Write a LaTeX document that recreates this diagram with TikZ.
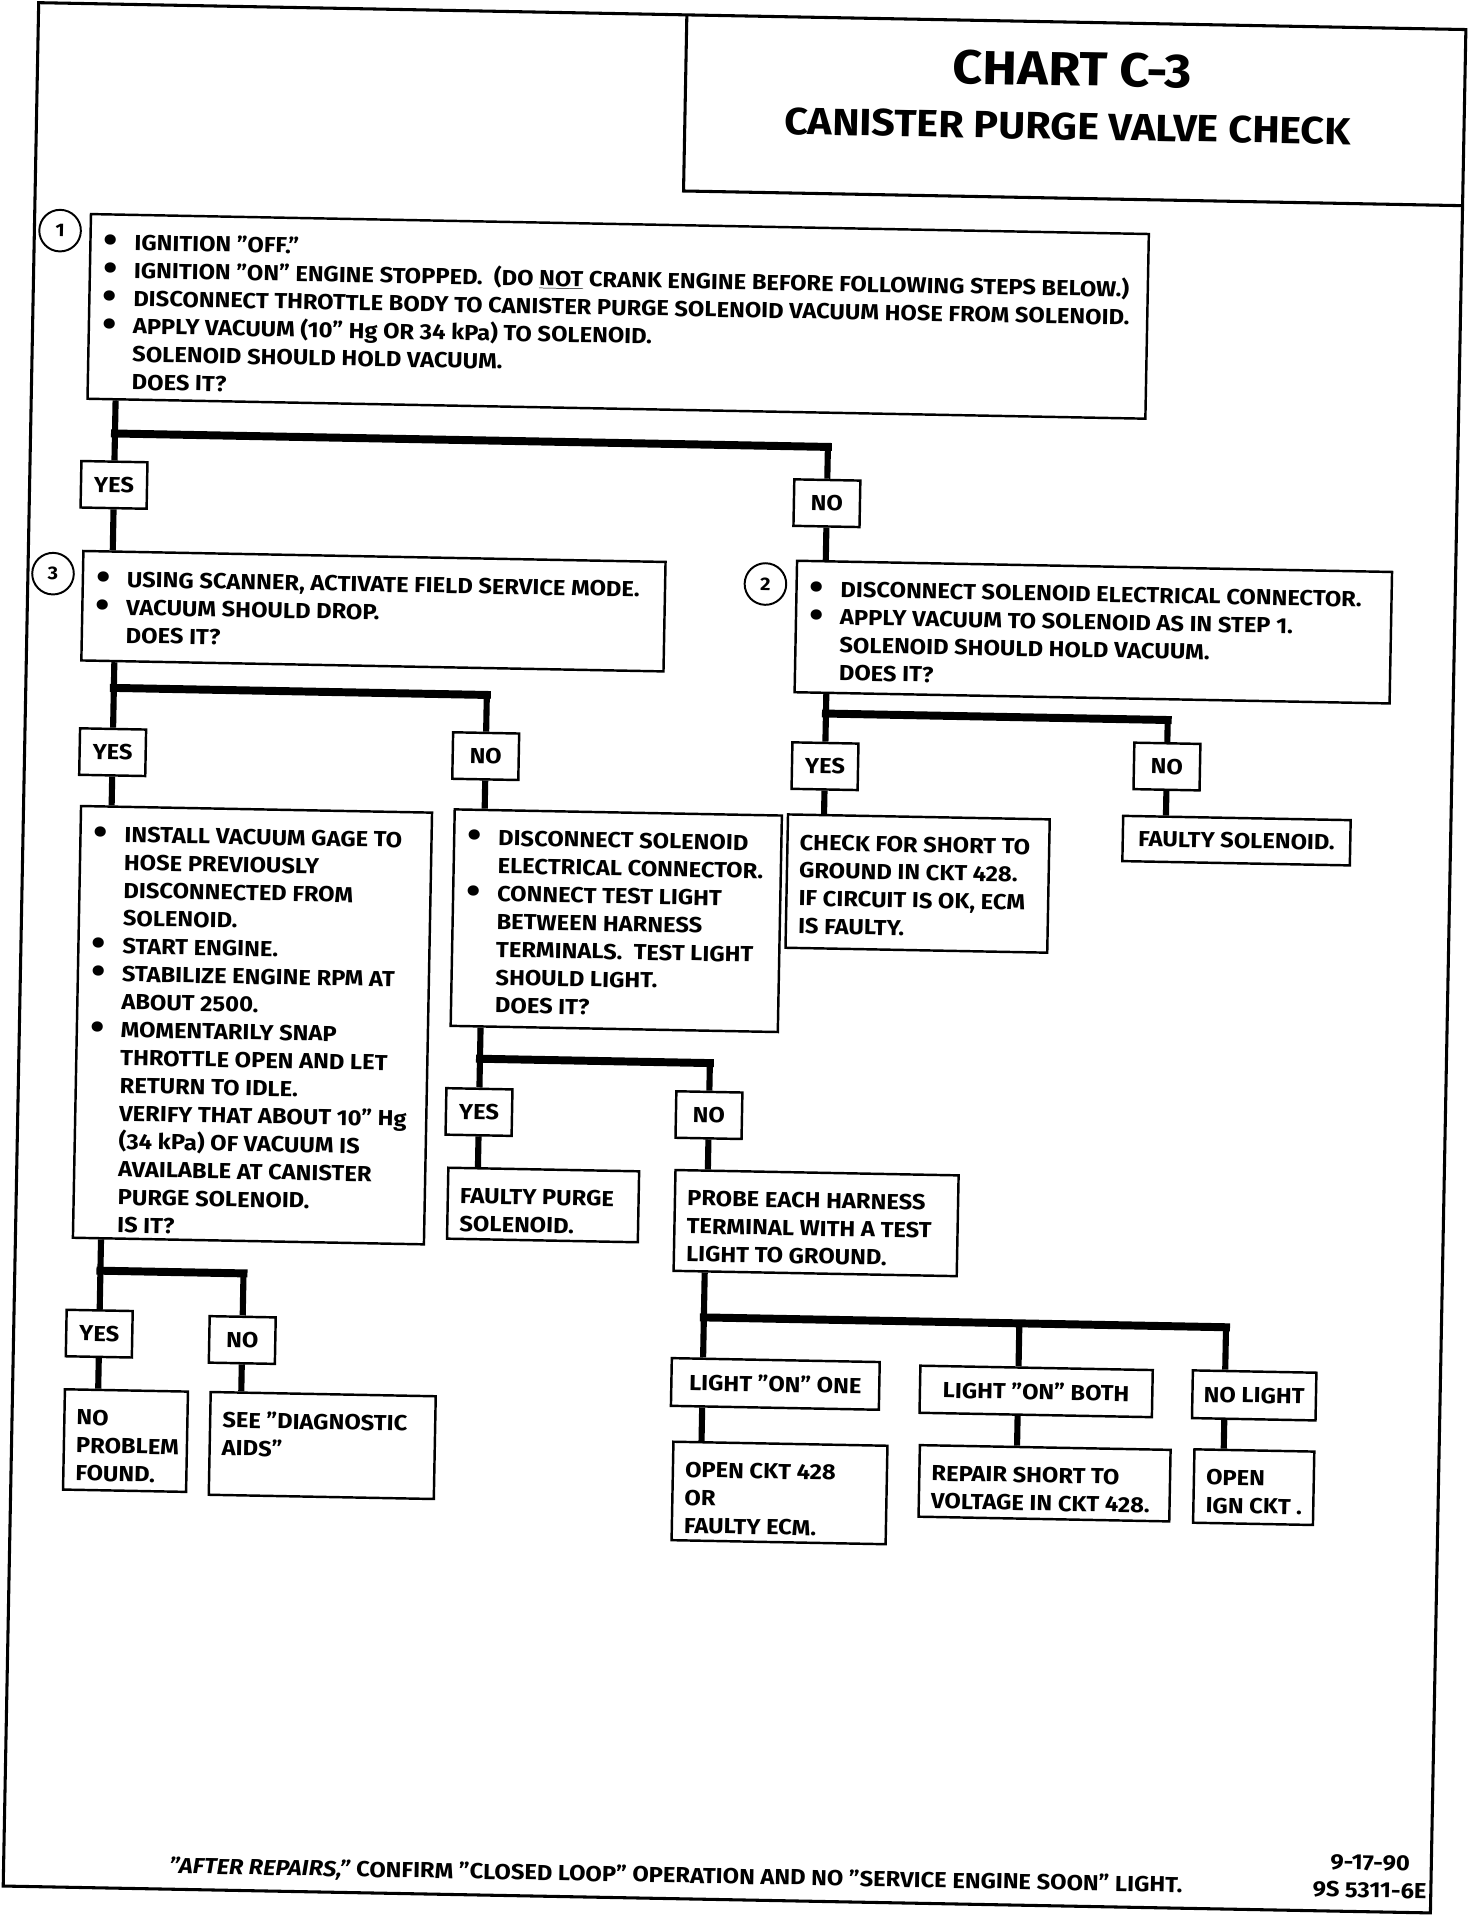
\documentclass[tikz,border=0pt]{standalone}
\usepackage{fontspec}
\setmainfont{Fira Sans}[FakeStretch=1.09]
\usetikzlibrary{calc}

\newcommand{\bodyfont}{\fontsize{17.8pt}{22.8pt}\selectfont\bfseries}
\newcommand{\bul}{\makebox[26pt][l]{\hspace{1pt}\raisebox{-2.2pt}{\scalebox{1.7}{\textbullet}}}}
\newcommand{\ind}{\hspace*{26pt}}
\newcommand{\boxtext}[3]{\parbox[t][#2][t]{#1}{\begin{tabular}[t]{@{}l@{}}#3\end{tabular}}}

\begin{document}
\begin{tikzpicture}[x=1pt, y=-1pt,
  stepbox/.style={draw, line width=2pt, anchor=north west, inner xsep=10pt, inner ysep=13pt, font=\bodyfont},
  ansbox/.style={draw, line width=2pt, minimum width=54pt, minimum height=38pt, inner sep=0pt, font=\bodyfont},
  stepnum/.style={draw, circle, line width=1.6pt, minimum size=34pt, inner sep=0pt, font=\fontsize{15pt}{17pt}\selectfont\bfseries},
  link/.style={line width=5pt},
  bar/.style={line width=6.5pt, line cap=rect},
  frame/.style={line width=2.5pt}]
  \useasboundingbox (0,0) rectangle (1203,1568);

  \begin{scope}[rotate around={-1.08:(600,783)}, transform shape]
  % Frame and title block
  \draw[frame] (17,13) rectangle (1184,1553);
  \draw[frame] (547,13) -- (547,157) -- (1184,157);
  \node[anchor=base, font=\fontsize{39pt}{44pt}\selectfont\bfseries] (chart) at (863,65) {CHART C-3};
  \node[anchor=base, font=\fontsize{31pt}{36pt}\selectfont\bfseries] (subtitle) at (860,109) {CANISTER PURGE VALVE CHECK};

  % Step 1
  \node[stepnum] (num1) at (38,199) {1};
  \node[stepbox] (b1) at (62,184) {\boxtext{845pt}{125pt}{
    \bul IGNITION ”OFF.” \\
    \bul IGNITION ”ON” ENGINE STOPPED.\ \ (DO \underline{NOT} CRANK ENGINE BEFORE FOLLOWING STEPS BELOW.) \\
    \bul DISCONNECT THROTTLE BODY TO CANISTER PURGE SOLENOID VACUUM HOSE FROM SOLENOID. \\
    \bul APPLY VACUUM (10” Hg OR 34 kPa) TO SOLENOID. \\
    \ind SOLENOID SHOULD HOLD VACUUM. \\
    \ind DOES IT?}};
  \node[ansbox] (yes1) at (86,406) {YES};
  \node[ansbox] (no1) at (669,410) {NO};
  \coordinate (j1) at (86,364);
  \coordinate (k1) at (669,364);

  % Step 3
  \node[stepnum] (num3) at (37.5,479.5) {3};
  \node[stepbox] (b3) at (61,459.5) {\boxtext{456pt}{63.5pt}{
    \bul USING SCANNER, ACTIVATE FIELD SERVICE MODE. \\
    \bul VACUUM SHOULD DROP. \\
    \ind DOES IT?}};
  \node[ansbox] (yes3) at (89,624.5) {YES};
  \node[ansbox] (no3) at (394,622) {NO};
  \coordinate (j3) at (89,572);
  \coordinate (k3) at (394,572);

  % Step 2
  \node[stepnum] (num2) at (620,477) {2};
  \node[stepbox] (b2) at (644.5,456.5) {\boxtext{466.5pt}{81.5pt}{
    \bul DISCONNECT SOLENOID ELECTRICAL CONNECTOR. \\
    \bul APPLY VACUUM TO SOLENOID AS IN STEP 1. \\
    \ind SOLENOID SHOULD HOLD VACUUM. \\
    \ind DOES IT?}};
  \node[ansbox] (yes2) at (671.5,625) {YES};
  \node[ansbox] (no2) at (951,620) {NO};
  \coordinate (j2) at (671.5,582);
  \coordinate (k2) at (951,582);
  \node[stepbox] (short) at (641,664) {\boxtext{194pt}{83pt}{
    CHECK FOR SHORT TO \\
    GROUND IN CKT 428. \\
    IF CIRCUIT IS OK, ECM \\
    IS FAULTY.}};
  \node[ansbox, minimum width=186pt, minimum height=37pt] (faulty) at (1009,679.5) {FAULTY SOLENOID.};

  % Vacuum gage check
  \node[stepbox] (gage) at (63,668) {\boxtext{267pt}{327pt}{
    \bul INSTALL VACUUM GAGE TO \\
    \ind HOSE PREVIOUSLY \\
    \ind DISCONNECTED FROM \\
    \ind SOLENOID. \\
    \bul START ENGINE. \\
    \bul STABILIZE ENGINE RPM AT \\
    \ind ABOUT 2500. \\
    \bul MOMENTARILY SNAP \\
    \ind THROTTLE OPEN AND LET \\
    \ind RETURN TO IDLE. \\
    \ind VERIFY THAT ABOUT 10” Hg \\
    \ind (34 kPa) OF VACUUM IS \\
    \ind AVAILABLE AT CANISTER \\
    \ind PURGE SOLENOID. \\
    \ind IS IT?}};
  \node[ansbox] (yesg) at (87,1100) {YES};
  \node[ansbox] (nog) at (204,1103) {NO};
  \coordinate (jg) at (87,1048.6);
  \coordinate (kg) at (204,1048.6);
  \node[stepbox] (found) at (58.8,1145) {\boxtext{80.6pt}{56pt}{
    NO \\
    PROBLEM \\
    FOUND.}};
  \node[stepbox] (aids) at (178,1145) {\boxtext{164pt}{58pt}{
    SEE ”DIAGNOSTIC \\
    AIDS”}};

  % Test light check
  \node[stepbox] (conn) at (368.5,665) {\boxtext{247.5pt}{151pt}{
    \bul DISCONNECT SOLENOID \\
    \ind ELECTRICAL CONNECTOR. \\
    \bul CONNECT TEST LIGHT \\
    \ind BETWEEN HARNESS \\
    \ind TERMINALS.\ \ TEST LIGHT \\
    \ind SHOULD LIGHT. \\
    \ind DOES IT?}};
  \node[ansbox] (yesc) at (394,913) {YES};
  \node[ansbox] (noc) at (582,912) {NO};
  \coordinate (jc) at (394,869.5);
  \coordinate (kc) at (582,869.5);
  \node[stepbox] (purge) at (368.8,958) {\boxtext{136pt}{32pt}{
    FAULTY PURGE \\
    SOLENOID.}};
  \node[stepbox] (probe) at (554.5,956.4) {\boxtext{211.5pt}{56.4pt}{
    PROBE EACH HARNESS \\
    TERMINAL WITH A TEST \\
    LIGHT TO GROUND.}};

  % Probe results
  \coordinate (jp) at (581,1077.5);
  \coordinate (kp) at (839,1077.5);
  \coordinate (lp) at (1008,1077.5);
  \node[ansbox, minimum width=170pt, minimum height=39pt] (lone) at (640.4,1130.7) {LIGHT ”ON” ONE};
  \node[ansbox, minimum width=190pt, minimum height=38.5pt] (lboth) at (853.7,1132.8) {LIGHT ”ON” BOTH};
  \node[ansbox, minimum width=101pt, minimum height=39pt] (lnone) at (1032,1132.7) {NO LIGHT};
  \node[stepbox] (ckt) at (557,1178.5) {\boxtext{155pt}{54.5pt}{
    OPEN CKT 428 \\
    OR \\
    FAULTY ECM.}};
  \node[stepbox] (repair) at (758.5,1177.5) {\boxtext{185pt}{32.5pt}{
    REPAIR SHORT TO \\
    VOLTAGE IN CKT 428.}};
  \node[stepbox] (ign) at (983,1176.7) {\boxtext{78pt}{34pt}{
    OPEN \\
    IGN CKT .}};

  % Connectors
  \draw[link] ($(b1.south west)!(yes1)!(b1.south east)$) -- (yes1.north);
  \draw[bar] (j1) -- (k1);
  \draw[link] (k1) -- (no1.north);
  \draw[link] (yes1.south) -- ($(b3.north west)!(yes1)!(b3.north east)$);
  \draw[link] (no1.south) -- ($(b2.north west)!(no1)!(b2.north east)$);

  \draw[link] ($(b3.south west)!(yes3)!(b3.south east)$) -- (yes3.north);
  \draw[bar] (j3) -- (k3);
  \draw[link] (k3) -- (no3.north);
  \draw[link] (yes3.south) -- ($(gage.north west)!(yes3)!(gage.north east)$);
  \draw[link] (no3.south) -- ($(conn.north west)!(no3)!(conn.north east)$);

  \draw[link] ($(b2.south west)!(yes2)!(b2.south east)$) -- (yes2.north);
  \draw[bar] (j2) -- (k2);
  \draw[link] (k2) -- (no2.north);
  \draw[link] (yes2.south) -- ($(short.north west)!(yes2)!(short.north east)$);
  \draw[link] (no2.south) -- ($(faulty.north west)!(no2)!(faulty.north east)$);

  \draw[link] ($(gage.south west)!(yesg)!(gage.south east)$) -- (yesg.north);
  \draw[bar] (jg) -- (kg);
  \draw[link] (kg) -- (nog.north);
  \draw[link] (yesg.south) -- ($(found.north west)!(yesg)!(found.north east)$);
  \draw[link] (nog.south) -- ($(aids.north west)!(nog)!(aids.north east)$);

  \draw[link] ($(conn.south west)!(yesc)!(conn.south east)$) -- (yesc.north);
  \draw[bar] (jc) -- (kc);
  \draw[link] (kc) -- (noc.north);
  \draw[link] (yesc.south) -- ($(purge.north west)!(yesc)!(purge.north east)$);
  \draw[link] (noc.south) -- ($(probe.north west)!(noc)!(probe.north east)$);

  \draw[link] ($(probe.south west)!(jp)!(probe.south east)$) -- ($(lone.north west)!(jp)!(lone.north east)$);
  \draw[bar] (jp) -- (lp);
  \draw[link] (kp) -- ($(lboth.north west)!(kp)!(lboth.north east)$);
  \draw[link] (lp) -- ($(lnone.north west)!(lp)!(lnone.north east)$);
  \draw[link] ($(lone.south west)!(jp)!(lone.south east)$) -- ($(ckt.north west)!(jp)!(ckt.north east)$);
  \draw[link] ($(lboth.south west)!(kp)!(lboth.south east)$) -- ($(repair.north west)!(kp)!(repair.north east)$);
  \draw[link] ($(lnone.south west)!(lp)!(lnone.south east)$) -- ($(ign.north west)!(lp)!(ign.north east)$);

  % Footer
  \node[anchor=base, font=\bodyfont] (after) at (566.6,1540) {\textit{”AFTER REPAIRS,”} CONFIRM ”CLOSED LOOP” OPERATION AND NO ”SERVICE ENGINE SOON” LIGHT.};
  \node[anchor=base, font=\bodyfont] (date) at (1134,1519) {9-17-90};
  \node[anchor=base, font=\bodyfont] (code) at (1134,1541.5) {9S 5311-6E};
  \end{scope}
\end{tikzpicture}
\end{document}
